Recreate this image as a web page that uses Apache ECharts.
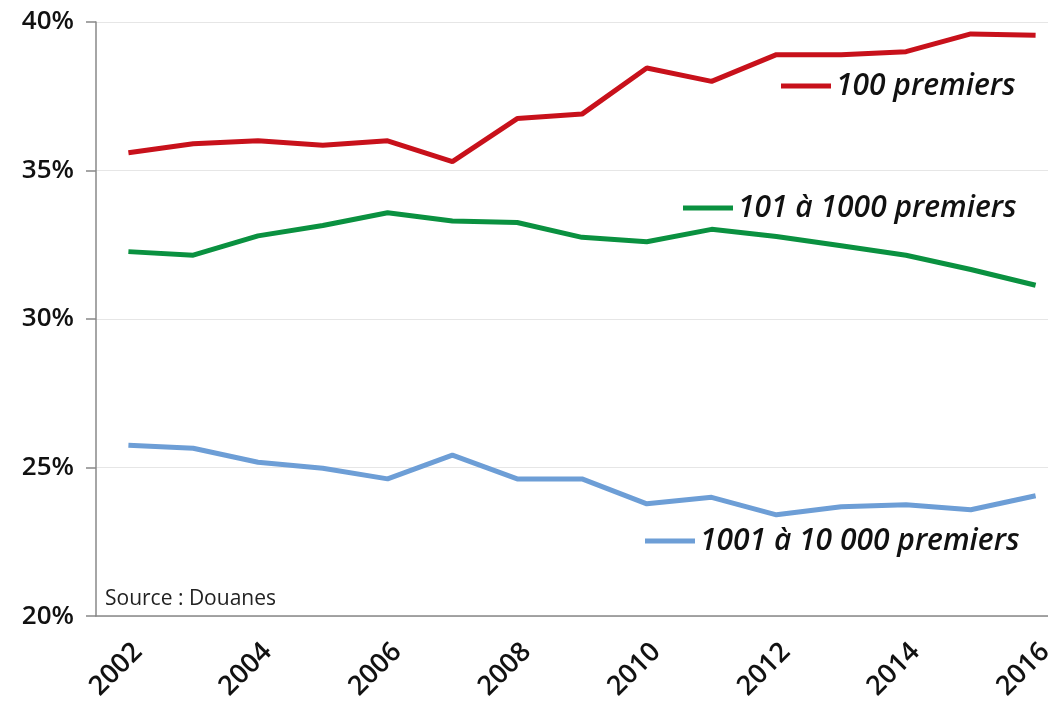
<!DOCTYPE html>
<html>
<head>
<meta charset="utf-8">
<script src="https://cdn.jsdelivr.net/npm/echarts@6/dist/echarts.min.js"></script>
<style>
  html, body { margin: 0; padding: 0; background: #fff; overflow: hidden; }
  /* plot runs past the right edge of the window, like the source */
  #chart { width: 1068px; height: 703px; }
</style>
</head>
<body>
<div id="chart"></div>
<script>
// data
const years = ['2002', '2003', '2004', '2005', '2006', '2007', '2008', '2009', '2010', '2011', '2012', '2013', '2014', '2015', '2016']
const top100 = [35.6, 35.9, 36.0, 35.85, 36.0, 35.3, 36.75, 36.9, 38.45, 38.0, 38.9, 38.9, 39.0, 39.6, 39.55]
const top1000 = [32.27, 32.15, 32.8, 33.15, 33.58, 33.3, 33.25, 32.75, 32.6, 33.02, 32.78, 32.47, 32.15, 31.67, 31.14]
const top10000 = [25.75, 25.65, 25.18, 24.98, 24.62, 25.42, 24.62, 24.62, 23.78, 24.0, 23.41, 23.68, 23.75, 23.58, 24.05]
const seriesNames = ['100 premiers', '101 à 1000 premiers', '1001 à 10 000 premiers']
const colors = ['#c8111b', '#0a9140', '#6d9ed6']

const font = '"Open Sans", "Noto Sans", sans-serif'
let chart = echarts.init(document.getElementById('chart'))

function legendFor(name, left, top) {
  return {
    data: [name],
    left: left,
    top: top,
    padding: 0,
    selectedMode: false,
    icon: 'rect',
    itemWidth: 50,
    itemHeight: 5,
    textStyle: {
      fontFamily: font,
      fontSize: 30,
      fontStyle: 'italic',
      fontWeight: 600,
      color: '#111',
      lineHeight: 34
    }
  }
}

function lineSeries(name, data, color) {
  return {
    name: name,
    type: 'line',
    data: data,
    symbol: 'none',
    color: color,
    lineStyle: { width: 5, color: color },
    z: 3
  }
}

let option = {
  animation: false,
  grid: { left: 96, right: 0, top: 22, bottom: 83 },
  graphic: [{
    type: 'text',
    left: 105,
    top: 589,
    style: { text: 'Source : Douanes', fontFamily: font, fontSize: 21, fill: '#222' }
  }],
  legend: [
    legendFor(seriesNames[0], 781, 69),
    legendFor(seriesNames[1], 683, 191),
    legendFor(seriesNames[2], 645, 524)
  ],
  xAxis: {
    type: 'category',
    data: years,
    boundaryGap: true,
    axisLine: { lineStyle: { color: '#888', width: 1.5 } },
    axisTick: { interval: 0, length: 9, lineStyle: { color: '#888', width: 1.5 } },
    axisLabel: {
      interval: 1,
      rotate: 45,
      verticalAlign: 'top',
      margin: 22,
      fontFamily: font,
      fontSize: 27,
      fontWeight: 600,
      color: '#111'
    },
    splitLine: { show: false }
  },
  yAxis: {
    type: 'value',
    min: 20,
    max: 40,
    interval: 5,
    axisLine: { show: true, lineStyle: { color: '#888', width: 1.5 } },
    axisTick: { show: true, length: 10, lineStyle: { color: '#888', width: 1.5 } },
    axisLabel: {
      formatter: '{value}%',
      margin: 22,
      fontFamily: font,
      fontSize: 26,
      fontWeight: 600,
      color: '#111'
    },
    splitLine: { lineStyle: { color: '#e6e6e6', width: 1 } }
  },
  series: [
    lineSeries(seriesNames[0], top100, colors[0]),
    lineSeries(seriesNames[1], top1000, colors[1]),
    lineSeries(seriesNames[2], top10000, colors[2])
  ]
}

chart.setOption(option)
</script>
</body>
</html>
